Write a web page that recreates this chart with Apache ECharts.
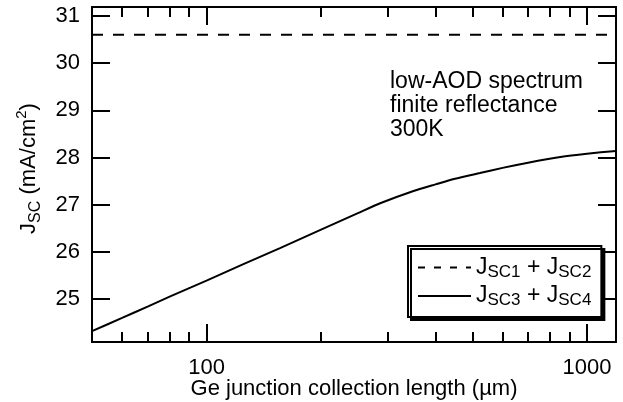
<!DOCTYPE html>
<html>
<head>
<meta charset="utf-8">
<script src="https://cdn.jsdelivr.net/npm/echarts@6/dist/echarts.min.js"></script>
<style>html,body{margin:0;padding:0;background:#fff}#c{width:623px;height:402px}</style>
</head>
<body>
<div id="c"></div>
<script>
// ---- data ----
const lengthUm = [50, 60, 70, 80, 100, 125, 156, 200, 250, 286, 350, 400, 450, 523, 600, 700, 851, 1000, 1192];
const jsc34 = [24.32, 24.60, 24.84, 25.05, 25.39, 25.74, 26.08, 26.47, 26.82, 27.03, 27.29, 27.43, 27.55, 27.67, 27.78, 27.89, 28.01, 28.08, 28.14];
const lengthTop = [50, 1192];
const jsc12 = [30.6, 30.6];
const xMajorTicks = [100, 1000];
const xMinorTicks = [60, 70, 80, 90, 200, 300, 400, 500, 600, 700, 800, 900];
const yTicks = [25, 26, 27, 28, 29, 30, 31];
const annotationLines = ['low-AOD spectrum', 'finite reflectance', '300K'];

const FONT = 'Liberation Sans';
const chart = echarts.init(document.getElementById('c'), null, {renderer: 'canvas'});
const xMin = 50, xMax = 1192, yMin = 24.09, yMax = 31.19;
const axLine = {show: true, lineStyle: {color: '#000', width: 2}};
function xAx(pos, ticks, len, labels, extra) {
  return Object.assign({
    type: 'log', logBase: 10, min: xMin, max: xMax, position: pos, gridIndex: 0,
    axisLine: axLine,
    axisTick: {show: true, inside: true, length: len, lineStyle: {color: '#000', width: 2}, customValues: ticks},
    axisLabel: labels ? {show: true, customValues: ticks, color: '#000', fontSize: 22, fontFamily: FONT, margin: 15,
      formatter: v => String(Math.round(v))} : {show: false},
    splitLine: {show: false}, minorTick: {show: false}, minorSplitLine: {show: false}
  }, extra || {});
}
function yAx(pos, labels, extra) {
  return Object.assign({
    type: 'value', min: yMin, max: yMax, position: pos,
    axisLine: axLine,
    axisTick: {show: true, inside: true, length: 18, lineStyle: {color: '#000', width: 2}, customValues: yTicks},
    axisLabel: labels ? {show: true, customValues: yTicks, color: '#000', fontSize: 22, fontFamily: FONT, margin: 12} : {show: false},
    splitLine: {show: false}
  }, extra || {});
}
const richMain = {
  m: {fontSize: 22, fontFamily: FONT, color: '#000', lineHeight: 30, verticalAlign: 'middle'},
  s: {fontSize: 16, fontFamily: FONT, color: '#000', lineHeight: 16, verticalAlign: 'bottom'},
  p: {fontSize: 15, fontFamily: FONT, color: '#000', lineHeight: 16, verticalAlign: 'top'}
};
const option = {
  animation: false,
  backgroundColor: '#fff',
  grid: {left: 92, right: 7, top: 7, bottom: 60, containLabel: false, outerBoundsMode: 'none'},
  xAxis: [
    xAx('bottom', xMajorTicks, 18, true, {
      name: 'Ge junction collection length (µm)', nameLocation: 'middle', nameGap: 36, nameMoveOverlap: false,
      nameTextStyle: {color: '#000', fontSize: 22, fontFamily: FONT}
    }),
    xAx('bottom', xMinorTicks, 10, false),
    xAx('top', xMajorTicks, 18, false),
    xAx('top', xMinorTicks, 10, false)
  ],
  yAxis: [
    yAx('left', true, {
      name: '{m|J}{s|SC}{m| (mA/cm}{p|2}{m|)}', nameLocation: 'middle', nameGap: 48, nameMoveOverlap: false,
      nameTextStyle: {rich: richMain, padding: [0, 0, 0, 12]}
    }),
    yAx('right', false)
  ],
  legend: {
    orient: 'vertical', left: 408, top: 246,
    padding: [10, 10, 8, 9], itemGap: 4, itemWidth: 53, itemHeight: 14,
    backgroundColor: '#fff', borderColor: '#000', borderWidth: 2,
    shadowColor: '#000', shadowBlur: 0, shadowOffsetX: 3, shadowOffsetY: 3,
    itemStyle: {color: 'rgba(0,0,0,0)', borderWidth: 0},
    textStyle: {rich: {
      m: {fontSize: 23, fontFamily: FONT, color: '#000', lineHeight: 26, verticalAlign: 'middle'},
      s: {fontSize: 17, fontFamily: FONT, color: '#000', lineHeight: 14, verticalAlign: 'bottom'}
    }},
    formatter: function (name) {
      return name === 'J_SC1 + J_SC2' ? '{m|J}{s|SC1}{m| + J}{s|SC2}' : '{m|J}{s|SC3}{m| + J}{s|SC4}';
    },
    data: [
      {name: 'J_SC1 + J_SC2', lineStyle: {type: [7, 9], width: 2, color: '#000'}},
      {name: 'J_SC3 + J_SC4', lineStyle: {width: 2, color: '#000'}}
    ]
  },
  graphic: [{
    type: 'text', left: 390, top: 70,
    style: {text: annotationLines.join('\n'), fontSize: 23, fontFamily: FONT, fill: '#000', lineHeight: 24}
  }],
  series: [
    {
      name: 'J_SC1 + J_SC2', type: 'line', xAxisIndex: 0, yAxisIndex: 0,
      data: lengthTop.map((x, i) => [x, jsc12[i]]),
      symbol: 'none', lineStyle: {color: '#000', width: 2, type: [11, 10]}, itemStyle: {color: '#000'}
    },
    {
      name: 'J_SC3 + J_SC4', type: 'line', xAxisIndex: 0, yAxisIndex: 0,
      data: lengthUm.map((x, i) => [x, jsc34[i]]),
      symbol: 'none', smooth: 0.2, lineStyle: {color: '#000', width: 2}, itemStyle: {color: '#000'}
    }
  ]
};
chart.setOption(option);
</script>
</body>
</html>
